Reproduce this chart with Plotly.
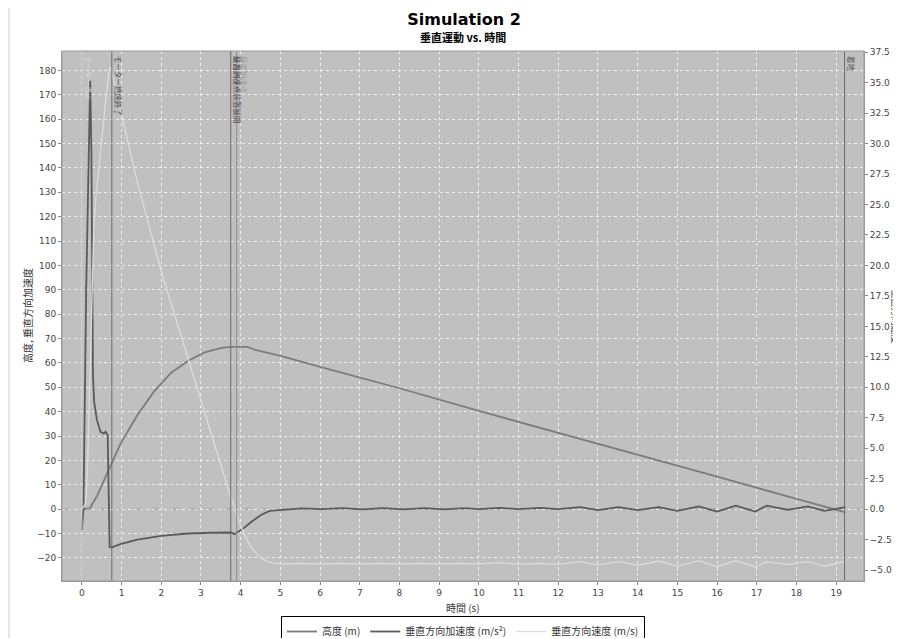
import plotly.graph_objects as go

# ---------------- data ----------------
t_alt = [0.0, 0.2, 0.38, 0.55, 0.72, 0.97, 1.4, 1.82, 2.25, 2.67, 3.09, 3.52, 3.77,
         4.17, 4.34, 5.03, 6.0, 8.0, 10.0, 12.0, 14.0, 16.0, 18.0, 19.23]
altitude = [0.0, 0.3, 5.3, 11.5, 17.8, 26.8, 38.6, 48.3, 56.0, 60.8, 64.3, 66.2, 66.6,
            66.6, 65.5, 62.8, 58.4, 49.6, 40.3, 31.4, 22.5, 13.3, 4.2, -1.3]

t_acc = [0.0, 0.04, 0.11, 0.17, 0.21, 0.24, 0.26, 0.28, 0.31, 0.38, 0.47, 0.55, 0.6, 0.65,
         0.70, 0.74, 0.97, 1.4, 2.0, 2.67, 3.26, 3.77, 3.84, 4.03, 4.28, 4.51, 4.73,
         5.03, 5.54, 6.05, 6.56, 7.08, 7.59, 8.1, 8.62, 9.13, 9.64, 10.0, 10.53, 11.0,
         11.54, 12.0, 12.55, 13.0, 13.52, 14.0, 14.53, 15.0, 15.54, 16.0, 16.47, 16.96,
         17.25, 17.78, 18.28, 18.7, 19.04, 19.23]
acceleration = [-8.6, 0.0, 91.0, 147.0, 175.8, 147.0, 91.0, 55.0, 44.0, 36.5, 31.7, 31.0, 31.8, 30.3,
                -15.6, -15.8, -14.4, -12.5, -11.0, -10.0, -9.7, -9.6, -10.3, -8.4, -5.1, -2.4, -0.7,
                -0.3, 0.3, 0.0, 0.4, -0.1, 0.4, -0.1, 0.4, -0.1, 0.4, 0.0, 0.5, 0.0,
                0.5, 0.0, 0.8, -0.4, 0.8, -0.4, 0.8, -0.7, 1.1, -1.0, 1.4, -1.0,
                1.4, -0.3, 1.1, -0.7, 0.3, 0.8]

t_vel = [0.0, 0.1, 0.15, 0.2, 0.25, 0.3, 0.35, 0.5, 0.6, 0.7, 0.75, 1.0, 1.4, 2.0, 2.5,
         3.0, 3.5, 3.75, 4.0, 4.25, 4.5, 4.75, 5.0, 5.5, 6.0, 6.5, 7.0, 7.5, 8.0, 8.5,
         9.0, 9.5, 10.0, 10.53, 11.0, 11.54, 12.0, 12.55, 13.0, 13.52, 14.0, 14.53, 15.0,
         15.54, 16.0, 16.47, 16.96, 17.25, 17.78, 18.28, 18.7, 19.04, 19.23]
velocity = [0.0, 0.5, 4.0, 11.0, 18.0, 23.0, 25.5, 30.5, 33.5, 36.3, 36.0, 32.4, 26.8, 19.5, 14.2,
            8.8, 3.5, 1.0, -1.4, -3.1, -4.0, -4.4, -4.5, -4.45, -4.5, -4.45, -4.5, -4.45, -4.5, -4.45,
            -4.5, -4.45, -4.5, -4.4, -4.53, -4.45, -4.53, -4.31, -4.59, -4.31, -4.62, -4.26, -4.67,
            -4.23, -4.73, -4.23, -4.73, -4.31, -4.56, -4.31, -4.67, -4.45, -4.23]

event_times = [0.0, 0.755, 3.75, 3.75, 3.90, 19.21]
event_labels = ["モーター点火", "モーター燃焼終了", "リカバリー装置展開", "最高到達点", "最高到達点", "着地"]

series_names = ["高度 (m)", "垂直方向加速度 (m/s²)", "垂直方向速度 (m/s)"]
left_ticks = list(range(-20, 181, 10))
right_ticks = [-5.0, -2.5, 0.0, 2.5, 5.0, 7.5, 10.0, 12.5, 15.0, 17.5, 20.0, 22.5,
               25.0, 27.5, 30.0, 32.5, 35.0, 37.5]
x_ticks = list(range(0, 20))

# ---------------- styles / geometry ----------------
FONT = "DejaVu Sans, Noto Sans CJK JP, sans-serif"
CJK = "Noto Sans CJK JP, DejaVu Sans, sans-serif"
series_colors = ["#7c7c7c", "#5a5a5a", "#dcdcdc"]
event_line_colors = ["#c6c6c6", "#6a6a6a", "#6a6a6a", "#6a6a6a", "#8a8a8a", "#6a6a6a"]
event_text_colors = ["#d6d6d6", "#505050", "#505050", "#4a4a4a", "#9a9a9a", "#505050"]

OFF = 8  # default page body margin in the browser
W, H = 893, 630
# plot area in page pixels: x 62..864, y 51..581
ML = 62 - OFF
MT = 51 - OFF
MR = W - (864 - OFF)
MB = H - (581 - OFF)
PW, PH = W - ML - MR, H - MT - MB


def fx(p):  # page px -> paper x
    return (p - OFF - ML) / PW


def fy(p):  # page px -> paper y
    return (H - MB - (p - OFF)) / PH


fig = go.Figure()
fig.add_trace(go.Scatter(x=t_alt, y=altitude, name=series_names[0], mode="lines",
                         line=dict(color=series_colors[0], width=1.8), yaxis="y"))
fig.add_trace(go.Scatter(x=t_acc, y=acceleration, name=series_names[1], mode="lines",
                         line=dict(color=series_colors[1], width=1.8), yaxis="y"))
fig.add_trace(go.Scatter(x=t_vel, y=velocity, name=series_names[2], mode="lines",
                         line=dict(color=series_colors[2], width=1.3), yaxis="y2"))

shapes = []
shapes.append(dict(type="line", xref="paper", x0=0, x1=1, yref="y", y0=0, y1=0,
                   line=dict(color="#9a9a9a", width=1, dash="dash"), layer="below"))
drawn = set()
for t, c in zip(event_times, event_line_colors):
    if t in drawn:
        continue
    drawn.add(t)
    shapes.append(dict(type="line", xref="x", x0=t, x1=t, yref="paper", y0=0, y1=1,
                       line=dict(color=c, width=1)))
shapes.append(dict(type="rect", xref="paper", yref="paper", x0=0, x1=1, y0=0, y1=1,
                   line=dict(color="#9a9a9a", width=1)))
shapes.append(dict(type="rect", xref="paper", yref="paper",
                   x0=fx(9), x1=fx(910), y0=fy(650), y1=fy(7.5),
                   line=dict(color="#cccccc", width=1)))

annotations = []
for t, lab, c in zip(event_times, event_labels, event_text_colors):
    annotations.append(dict(x=t, xref="x", y=1, yref="paper", text=lab, textangle=90,
                            showarrow=False, xanchor="left", yanchor="top", xshift=0, yshift=-3,
                            font=dict(family=CJK, size=7.5, color=c)))

annotations.append(dict(x=fx(27), xref="paper", y=0.5, yref="paper", text="高度, 垂直方向加速度",
                        textangle=-90, showarrow=False, xanchor="center", yanchor="middle",
                        font=dict(family=CJK, size=10, color="#333333")))
annotations.append(dict(x=fx(895.5), xref="paper", y=0.5, yref="paper", text="垂直方向速度",
                        textangle=90, showarrow=False, xanchor="center", yanchor="middle",
                        font=dict(family=CJK, size=9, color="#333333")))
annotations.append(dict(x=0.5, xref="paper", y=fy(607), yref="paper", text="時間 (s)",
                        showarrow=False, xanchor="center", yanchor="middle",
                        font=dict(family=CJK, size=10, color="#333333")))
annotations.append(dict(x=0.5, xref="paper", y=fy(37), yref="paper", text="<b>垂直運動 vs. 時間</b>",
                        showarrow=False, xanchor="center", yanchor="middle",
                        font=dict(family=CJK, size=11, color="#000000")))

axis_common = dict(ticks="outside", ticklen=3, tickcolor="#888888", showline=True,
                   linecolor="#9a9a9a", zeroline=False, tickfont=dict(size=9, color="#444444"))
grid = dict(showgrid=True, gridcolor="rgba(255,255,255,0.75)", griddash="dot", gridwidth=1)

fig.update_layout(
    width=W, height=H,
    margin=dict(l=ML, r=MR, t=MT, b=MB, autoexpand=False),
    paper_bgcolor="white", plot_bgcolor="#c0c0c0",
    font=dict(family=FONT, size=9, color="#444444"),
    title=dict(text="<b>Simulation 2</b>", x=(464 - OFF) / W, xanchor="center",
               y=1 - (19 - OFF) / H, yanchor="middle",
               font=dict(family="DejaVu Sans", size=16, color="#000000")),
    xaxis=dict(range=[-0.5, 19.7], tickvals=x_ticks, **grid, **axis_common),
    yaxis=dict(range=[-29.5, 188], tickvals=left_ticks, **grid, **axis_common),
    yaxis2=dict(range=[-5.9, 37.6], tickvals=right_ticks, tickformat=".1f", overlaying="y",
                side="right", showgrid=False, **axis_common),
    legend=dict(orientation="h", x=0.5, xanchor="center", y=fy(616), yanchor="top",
                bordercolor="#000000", borderwidth=1, bgcolor="white",
                font=dict(family=CJK, size=10, color="#333333"),
                itemwidth=30, tracegroupgap=0),
    shapes=shapes, annotations=annotations,
    showlegend=True,
)

fig.write_html("out.html")
